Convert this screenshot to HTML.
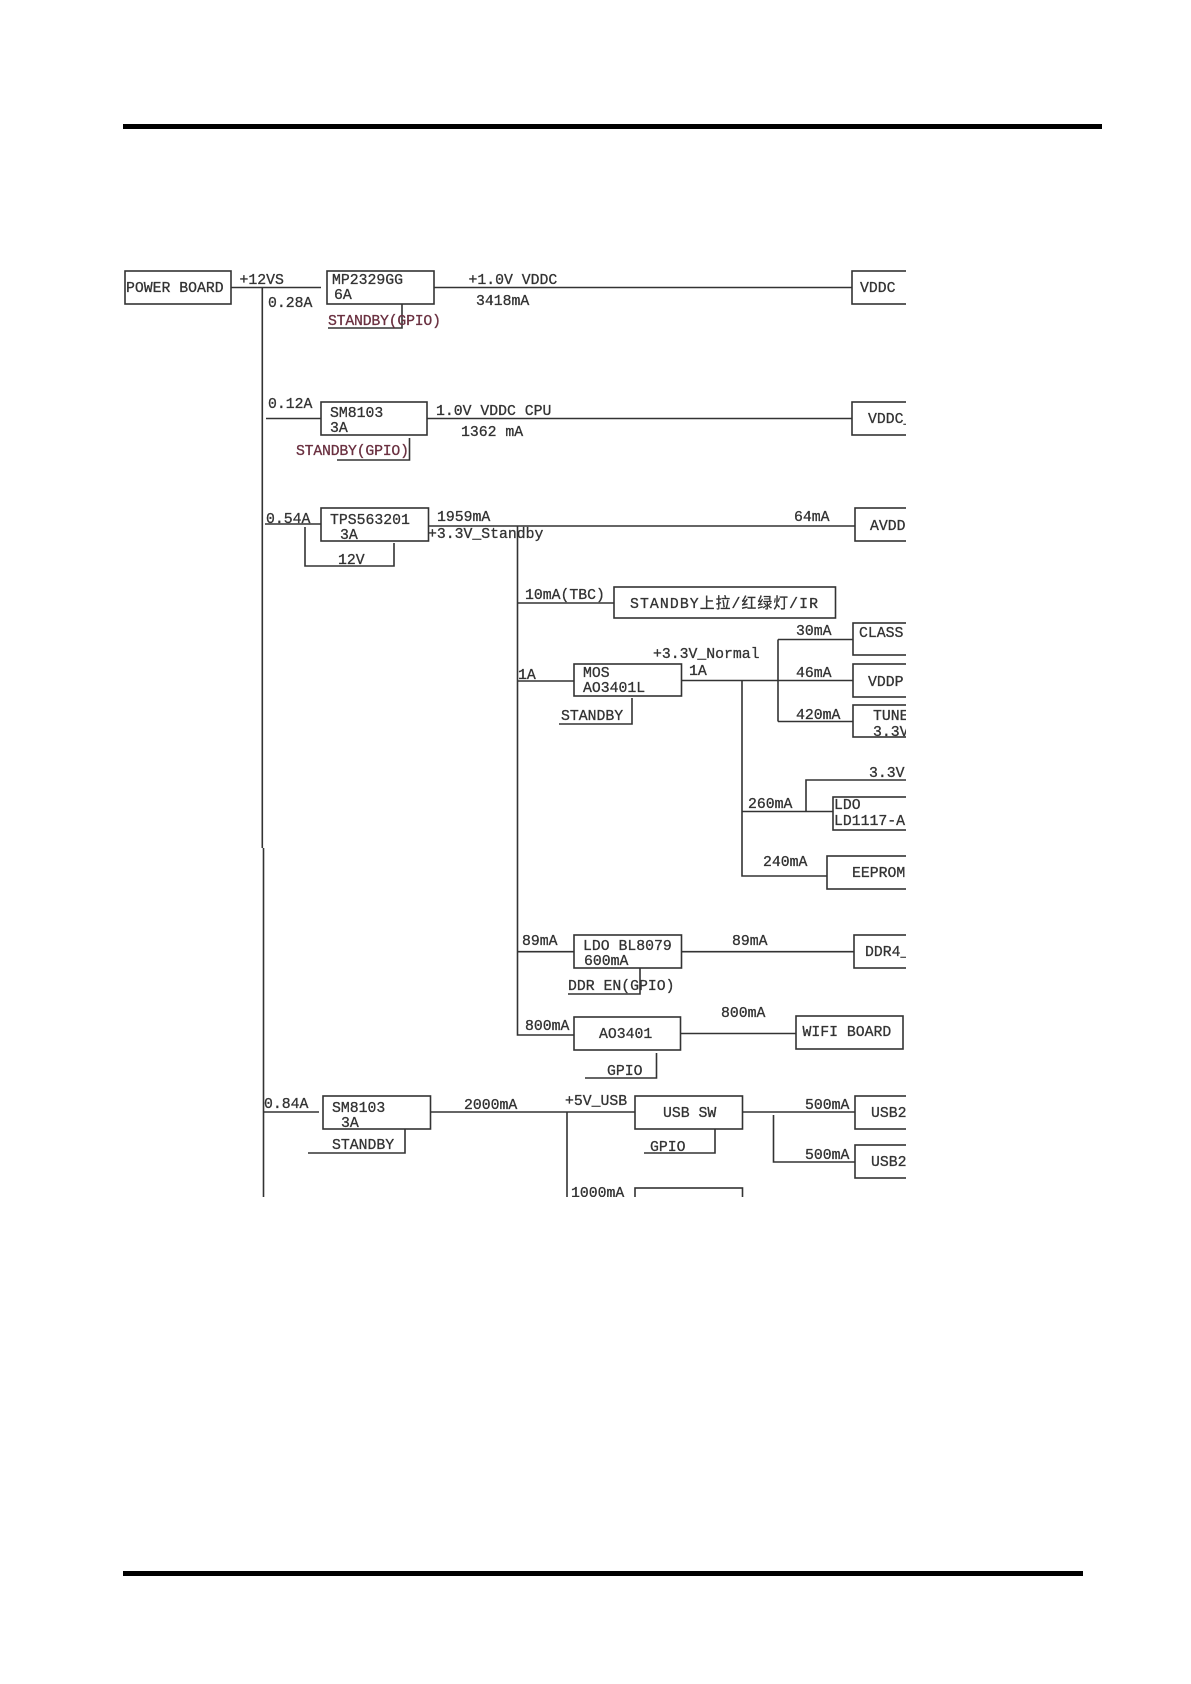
<!DOCTYPE html>
<html>
<head>
<meta charset="utf-8">
<style>
html,body{margin:0;padding:0;background:#fff;width:1191px;height:1684px;overflow:hidden}
svg{position:absolute;left:0;top:0;display:block}
text{font-family:"Liberation Mono","Noto Sans CJK SC",monospace;font-size:14.8px;fill:#333;stroke:#333;stroke-width:.3px;white-space:pre}
text.r{fill:#6a3040;stroke:#6a3040}
.b rect{fill:none;stroke:#333;stroke-width:1.6}
.l path{fill:none;stroke:#333;stroke-width:1.6}
.d{filter:blur(0.35px)}
</style>
</head>
<body>
<svg width="1191" height="1684" viewBox="0 0 1191 1684" xmlns="http://www.w3.org/2000/svg">
<defs><clipPath id="c"><rect x="0" y="0" width="906" height="1197"/></clipPath></defs>
<rect x="123" y="124" width="979" height="5" fill="#000"/>
<rect x="123" y="1571" width="960" height="5" fill="#000"/>
<g clip-path="url(#c)"><g class="d">
<g class="b">
<rect x="125" y="271" width="106" height="33"/>
<rect x="327" y="271" width="107" height="33"/>
<rect x="852" y="271" width="100" height="33"/>
<rect x="321" y="402" width="106" height="33"/>
<rect x="852" y="402" width="100" height="33"/>
<rect x="321" y="508" width="107.500" height="33"/>
<rect x="855" y="508" width="100" height="33"/>
<rect x="614" y="587" width="221.500" height="31"/>
<rect x="853" y="623" width="100" height="32"/>
<rect x="574" y="664" width="107.500" height="32"/>
<rect x="853" y="664" width="100" height="33"/>
<rect x="853" y="705" width="100" height="32"/>
<rect x="833" y="797" width="100" height="33"/>
<rect x="827" y="856" width="100" height="33"/>
<rect x="574" y="935" width="107.500" height="33"/>
<rect x="854" y="935" width="100" height="33"/>
<rect x="574" y="1017" width="106.500" height="33"/>
<rect x="796" y="1016" width="107" height="33"/>
<rect x="323" y="1096" width="107.500" height="33"/>
<rect x="635" y="1096" width="107.500" height="33"/>
<rect x="855" y="1096" width="100" height="33"/>
<rect x="855" y="1145" width="100" height="33"/>
<rect x="635" y="1188" width="107.500" height="33"/>
</g>
<g class="l">
<path d="M231 287.500H321M262.300 288V848M263.500 848V1197M434 287.500H852"/>
<path d="M328 328H402V304"/>
<path d="M266 418.500H321M427 418.500H852M337 460H409.500V438"/>
<path d="M265 524H321M428.500 526H855M517.500 526V1035H574"/>
<path d="M305 527V566H394V543"/>
<path d="M517.500 603H614M517.500 681H574M559 724H632V698"/>
<path d="M681.500 680.500H853M778 639.500V721.500M778 639.500H853M778 721.500H853"/>
<path d="M742 681V876H827M742 811.500H833M806 811.500V780H906"/>
<path d="M517.500 951.700H574M681.500 951.700H854M568 994H640V968"/>
<path d="M680 1033.500H796M585 1078H656.500V1053"/>
<path d="M263 1112H319M430.500 1112H635M567 1112V1197"/>
<path d="M308 1153H405V1129M644 1153H715V1129"/>
<path d="M742.500 1112H855M773.500 1115V1162H855"/>
</g>
<text x="126" y="292">POWER BOARD</text>
<text x="239.500" y="284">+12VS</text>
<text x="268" y="307">0.28A</text>
<text x="332" y="284">MP2329GG</text>
<text x="334" y="299">6A</text>
<text x="468.500" y="284">+1.0V VDDC</text>
<text x="476" y="305">3418mA</text>
<text class="r" x="328" y="325" textLength="113">STANDBY(GPIO)</text>
<text x="860" y="292">VDDC</text>
<text x="268" y="408">0.12A</text>
<text x="330" y="417">SM8103</text>
<text x="330" y="432">3A</text>
<text x="436" y="415">1.0V VDDC CPU</text>
<text x="461" y="436">1362 mA</text>
<text class="r" x="296" y="455" textLength="113">STANDBY(GPIO)</text>
<text x="868" y="423">VDDC_</text>
<text x="266" y="523">0.54A</text>
<text x="330" y="524">TPS563201</text>
<text x="340" y="539">3A</text>
<text x="437" y="521">1959mA</text>
<text x="428" y="538">+3.3V_Standby</text>
<text x="338" y="564">12V</text>
<text x="794" y="521">64mA</text>
<text x="870" y="530">AVDD</text>
<text x="525" y="599">10mA(TBC)</text>
<text x="630" y="608" textLength="188">STANDBY上拉/红绿灯/IR</text>
<text x="796" y="635">30mA</text>
<text x="859" y="637">CLASS</text>
<text x="653" y="658">+3.3V_Normal</text>
<text x="518" y="679">1A</text>
<text x="583" y="677">MOS</text>
<text x="583" y="692">AO3401L</text>
<text x="689" y="675">1A</text>
<text x="561" y="720">STANDBY</text>
<text x="796" y="677">46mA</text>
<text x="868" y="686">VDDP:</text>
<text x="796" y="719">420mA</text>
<text x="873" y="720">TUNE</text>
<text x="873" y="736">3.3V</text>
<text x="869" y="777">3.3V</text>
<text x="748" y="808">260mA</text>
<text x="834" y="809">LDO</text>
<text x="834" y="825">LD1117-A</text>
<text x="763" y="866">240mA</text>
<text x="852" y="877">EEPROM</text>
<text x="522" y="945">89mA</text>
<text x="583" y="950">LDO BL8079</text>
<text x="584" y="965">600mA</text>
<text x="732" y="945">89mA</text>
<text x="865" y="956">DDR4_</text>
<text x="568" y="990">DDR EN(GPIO)</text>
<text x="525" y="1030">800mA</text>
<text x="599" y="1038">AO3401</text>
<text x="721" y="1017">800mA</text>
<text x="802.500" y="1036">WIFI BOARD</text>
<text x="607" y="1075">GPIO</text>
<text x="264" y="1108">0.84A</text>
<text x="332" y="1112">SM8103</text>
<text x="341" y="1127">3A</text>
<text x="332" y="1149">STANDBY</text>
<text x="464" y="1109">2000mA</text>
<text x="565" y="1105">+5V_USB</text>
<text x="663" y="1117">USB SW</text>
<text x="650" y="1151">GPIO</text>
<text x="805" y="1109">500mA</text>
<text x="871" y="1117">USB2</text>
<text x="805" y="1159">500mA</text>
<text x="871" y="1166">USB2</text>
<text x="571" y="1197">1000mA</text>
</g></g>
</svg>
</body>
</html>
